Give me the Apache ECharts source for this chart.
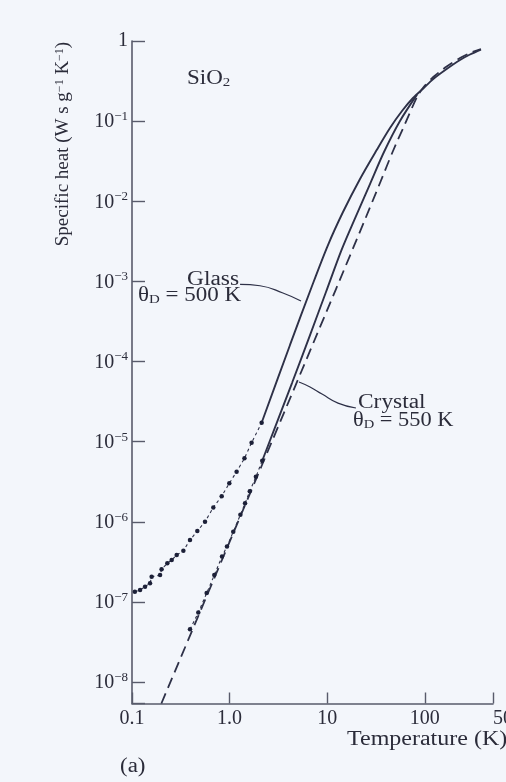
<!DOCTYPE html>
<html>
<head>
<meta charset="utf-8">
<script src="https://cdn.jsdelivr.net/npm/echarts@6/dist/echarts.min.js"></script>
<style>
  html, body { margin: 0; padding: 0; background: #f3f6fb; }
  #chart { width: 506px; height: 782px; }
</style>
</head>
<body>
<div id="chart"></div>
<script>
// Specific heat of SiO2 (W s g^-1 K^-1) against temperature (K), glass and crystal.

// Measured points, vitreous silica
const glassMeasuredT = [0.107, 0.121, 0.136, 0.153, 0.159, 0.194, 0.201, 0.230, 0.255, 0.287, 0.336,
  0.393, 0.467, 0.560, 0.681, 0.830, 0.993, 1.18, 1.42, 1.68, 2.13];
const glassMeasuredC = [1.34e-7, 1.41e-7, 1.55e-7, 1.71e-7, 2.06e-7, 2.16e-7, 2.55e-7, 3.03e-7, 3.33e-7, 3.85e-7, 4.36e-7,
  5.92e-7, 7.66e-7, 1.00e-6, 1.51e-6, 2.09e-6, 3.02e-6, 4.22e-6, 6.19e-6, 9.70e-6, 1.72e-5];
// Smooth curve, vitreous silica
const glassCurveT = [2.13, 4.16, 6.99, 10.19, 14.52, 21.69, 32.15, 44.0, 58.4, 75.7, 96.5, 122.2, 167.6, 229.5, 290.5, 376.5];
const glassCurveC = [1.72e-5, 1.61e-4, 8.76e-4, 2.84e-3, 7.34e-3, 1.90e-2, 4.36e-2, 8.21e-2, 0.1338, 0.1943, 0.2554,
  0.3355, 0.447, 0.579, 0.678, 0.783];

// Measured points, crystalline quartz
const crystalMeasuredT = [0.393, 0.478, 0.582, 0.697, 0.836, 0.940, 1.09, 1.29, 1.44, 1.61, 1.86, 2.16];
const crystalMeasuredC = [4.55e-8, 7.36e-8, 1.29e-7, 2.16e-7, 3.68e-7, 4.91e-7, 7.51e-7, 1.22e-6, 1.70e-6,
  2.41e-6, 3.65e-6, 5.78e-6];
// Smooth curve, crystalline quartz
const crystalCurveT = [2.16, 4.36, 6.67, 9.72, 14.01, 19.73, 27.45, 38.2, 55.7, 83.2];
const crystalCurveC = [5.78e-6, 5.39e-5, 2.14e-4, 7.37e-4, 2.46e-3, 6.54e-3, 1.64e-2, 4.12e-2, 0.1004, 0.214];

// Debye model curve (dashed)
const debyeT = [0.2, 2.148, 12.31, 23.82, 34.75, 47.23, 62.69, 83.2, 96.5, 122.2, 167.6, 229.5, 290.5, 376.5];
const debyeC = [5.4e-9, 5.11e-6, 8.03e-4, 5.51e-3, 1.69e-2, 4.24e-2, 9.21e-2, 0.200, 0.263, 0.355, 0.481,
  0.614, 0.708, 0.795];

// Leader lines from the labels to their curves
const glassLeaderT = [1.28, 2.05, 3.52, 5.39];
const glassLeaderC = [9.19e-4, 8.83e-4, 7.16e-4, 5.69e-4];
const crystalLeaderT = [5.14, 6.67, 8.85, 12.9, 19.7];
const crystalLeaderC = [5.55e-5, 4.81e-5, 3.93e-5, 3.03e-5, 2.63e-5];

// Axis ranges and tick labels
const tempRange = [0.1, 500];
const heatRange = [5.4e-9, 1];
const tempTickLabels = { '0.1': '0.1', '1': '1.0', '10': '10', '100': '100', '500': '500' };

const SERIF = '"Liberation Serif", "DejaVu Serif", serif';
const INK = '#2b2c3a';
const LINE = '#2e3148';

const pairs = (xs, ys) => xs.map((x, i) => [x, ys[i]]);

const chart = echarts.init(document.getElementById('chart'), null, { renderer: 'canvas' });

const option = {
  backgroundColor: '#f3f6fb',
  animation: false,
  grid: { left: 132, right: 13, top: 41, bottom: 78.5, containLabel: false, outerBoundsMode: 'none' },
  xAxis: {
    type: 'log',
    logBase: 10,
    min: tempRange[0],
    max: tempRange[1],
    axisLine: { show: true, lineStyle: { color: '#585b6b', width: 1.6 } },
    axisTick: { show: true, inside: true, length: 11, lineStyle: { color: '#585b6b', width: 1.4 } },
    minorTick: { show: false },
    splitLine: { show: false },
    axisLabel: {
      margin: 5,
      color: INK,
      fontFamily: SERIF,
      fontSize: 20,
      formatter: function (v) {
        const key = String(+v.toPrecision(6));
        const s = tempTickLabels[key];
        if (s === undefined) return '';
        if (key === '500') return '{r|' + s + '}';
        return s;
      },
      rich: {
        r: { fontFamily: SERIF, fontSize: 20, color: INK, padding: [0, 0, 0, 30] }
      }
    }
  },
  yAxis: {
    type: 'log',
    logBase: 10,
    min: heatRange[0],
    max: heatRange[1],
    axisLine: { show: true, lineStyle: { color: '#585b6b', width: 1.6 } },
    axisTick: { show: true, inside: true, length: 13, lineStyle: { color: '#585b6b', width: 1.4 } },
    minorTick: { show: false },
    splitLine: { show: false },
    axisLabel: {
      margin: 4,
      color: INK,
      fontFamily: SERIF,
      fontSize: 20,
      formatter: function (v) {
        const e = Math.log10(v);
        const n = Math.round(e);
        if (Math.abs(e - n) > 1e-6) return '';
        if (n === 0) return '{one|1}';
        return '{b|10}{s|\u2212' + (-n) + '}';
      },
      rich: {
        one: { fontFamily: SERIF, fontSize: 20, color: INK, lineHeight: 22 },
        b: { fontFamily: SERIF, fontSize: 20, color: INK, lineHeight: 22, verticalAlign: 'bottom' },
        s: { fontFamily: SERIF, fontSize: 13, color: INK, lineHeight: 13, verticalAlign: 'top' }
      }
    }
  },
  graphic: [
    {
      type: 'text', x: 63, y: 144, rotation: Math.PI / 2,
      style: {
        text: 'Specific heat (W s g{s|\u22121} K{s|\u22121})',
        font: '19px ' + SERIF, fill: INK, align: 'center', verticalAlign: 'middle',
        rich: {
          s: { fontFamily: SERIF, fontSize: 12, fill: INK, verticalAlign: 'top', lineHeight: 12 }
        }
      }
    },
    {
      type: 'text', x: 187, y: 79, scaleX: 1.15,
      style: {
        text: 'SiO{d|2}', font: '20px ' + SERIF, fill: INK, align: 'left', verticalAlign: 'middle',
        rich: { d: { fontFamily: SERIF, fontSize: 13, fill: INK, verticalAlign: 'bottom', lineHeight: 13 } }
      }
    },
    {
      type: 'text', x: 187, y: 280, scaleX: 1.17,
      style: { text: 'Glass', font: '20px ' + SERIF, fill: INK, align: 'left', verticalAlign: 'middle' }
    },
    {
      type: 'text', x: 138, y: 296, scaleX: 1.15,
      style: {
        text: '\u03b8{d|D} = 500 K', font: '20px ' + SERIF, fill: INK, align: 'left', verticalAlign: 'middle',
        rich: { d: { fontFamily: SERIF, fontSize: 13, fill: INK, verticalAlign: 'bottom', lineHeight: 13 } }
      }
    },
    {
      type: 'text', x: 358, y: 403, scaleX: 1.17,
      style: { text: 'Crystal', font: '20px ' + SERIF, fill: INK, align: 'left', verticalAlign: 'middle' }
    },
    {
      type: 'text', x: 353, y: 421, scaleX: 1.12,
      style: {
        text: '\u03b8{d|D} = 550 K', font: '20px ' + SERIF, fill: INK, align: 'left', verticalAlign: 'middle',
        rich: { d: { fontFamily: SERIF, fontSize: 13, fill: INK, verticalAlign: 'bottom', lineHeight: 13 } }
      }
    },
    {
      type: 'text', x: 347, y: 740, scaleX: 1.2,
      style: { text: 'Temperature (K)', font: '20px ' + SERIF, fill: INK, align: 'left', verticalAlign: 'middle' }
    },
    {
      type: 'text', x: 120, y: 767, scaleX: 1.15,
      style: { text: '(a)', font: '20px ' + SERIF, fill: INK, align: 'left', verticalAlign: 'middle' }
    }
  ],
  series: [
    {
      name: 'Debye', type: 'line', smooth: 0.25, symbol: 'none', silent: true,
      data: pairs(debyeT, debyeC),
      lineStyle: { color: LINE, width: 1.8, type: [11, 6] }, z: 2
    },
    {
      name: 'Glass data', type: 'line', smooth: false, symbol: 'circle', symbolSize: 4.5, silent: true,
      data: pairs(glassMeasuredT, glassMeasuredC),
      lineStyle: { color: LINE, width: 1.1, type: [3, 3] },
      itemStyle: { color: '#1c2038', borderWidth: 0 }, z: 4
    },
    {
      name: 'Glass', type: 'line', smooth: 0.3, symbol: 'none', silent: true,
      data: pairs(glassCurveT, glassCurveC),
      lineStyle: { color: LINE, width: 1.9 }, z: 3
    },
    {
      name: 'Crystal data', type: 'line', smooth: false, symbol: 'circle', symbolSize: 4.5, silent: true,
      data: pairs(crystalMeasuredT, crystalMeasuredC),
      lineStyle: { color: LINE, width: 1.1, type: [3, 3] },
      itemStyle: { color: '#1c2038', borderWidth: 0 }, z: 4
    },
    {
      name: 'Crystal', type: 'line', smooth: 0.3, symbol: 'none', silent: true,
      data: pairs(crystalCurveT, crystalCurveC),
      lineStyle: { color: LINE, width: 1.9 }, z: 3
    },
    {
      name: 'Glass label', type: 'line', smooth: true, symbol: 'none', silent: true,
      data: pairs(glassLeaderT, glassLeaderC),
      lineStyle: { color: LINE, width: 1.2 }, z: 3
    },
    {
      name: 'Crystal label', type: 'line', smooth: true, symbol: 'none', silent: true,
      data: pairs(crystalLeaderT, crystalLeaderC),
      lineStyle: { color: LINE, width: 1.2 }, z: 3
    }
  ]
};

chart.setOption(option);
</script>
</body>
</html>
